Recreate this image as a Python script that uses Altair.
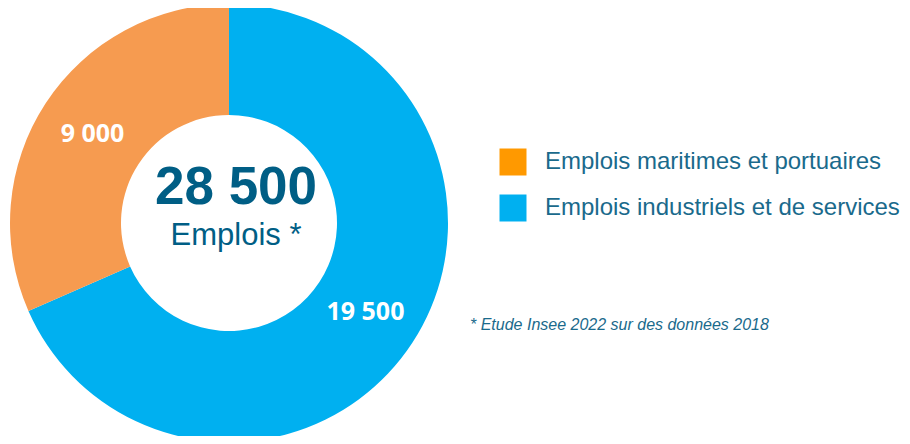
import altair as alt
import pandas as pd

# ---- data ----
categories = ["Emplois industriels et de services", "Emplois maritimes et portuaires"]
values = [19500, 9000]
value_labels = ["19 500", "9 000"]
slice_order = [0, 1]
pie_colors = ["#00B0F0", "#F69B50"]

legend_order = ["Emplois maritimes et portuaires", "Emplois industriels et de services"]
legend_colors = ["#FF9900", "#00B0F0"]

total_label = "28 500"
total_caption = "Emplois *"
footnote = "* Etude Insee 2022 sur des données 2018"

TEXT_DARK = "#005E85"
TEXT_MID = "#1A6A8C"

df = pd.DataFrame({"cat": categories, "val": values, "lab": value_labels, "ord": slice_order})
leg = pd.DataFrame({"cat": legend_order})

CX, CY = 221, 215

theta = alt.Theta("val:Q", stack=True)
order = alt.Order("ord:Q")

arcs = alt.Chart(df).mark_arc(outerRadius=219, innerRadius=108).encode(
    theta=theta, order=order,
    color=alt.Color("cat:N", scale=alt.Scale(domain=categories, range=pie_colors), legend=None),
    x=alt.value(CX), y=alt.value(CY),
)

slice_text = alt.Chart(df).mark_text(
    radius=163, fontSize=25, fontWeight="bold", font="Open Sans", color="white"
).encode(theta=theta, order=order, text="lab:N", x=alt.value(CX), y=alt.value(CY))

center = pd.DataFrame({"t": [total_label]})
center_big = alt.Chart(center).mark_text(
    fontSize=53, fontWeight="bold", font="Liberation Sans", color=TEXT_DARK,
    baseline="alphabetic", align="center"
).encode(text="t:N", x=alt.value(228), y=alt.value(196))

cap = pd.DataFrame({"t": [total_caption]})
center_cap = alt.Chart(cap).mark_text(
    fontSize=31, font="Liberation Sans", color=TEXT_DARK,
    baseline="alphabetic", align="center"
).encode(text="t:N", x=alt.value(228), y=alt.value(237))

ly = alt.Y("cat:N", scale=alt.Scale(type="point", domain=legend_order, range=[154, 200], padding=0), axis=None)

leg_sq = alt.Chart(leg).mark_square(size=729, opacity=1).encode(
    y=ly, x=alt.value(505),
    fill=alt.Fill("cat:N", scale=alt.Scale(domain=legend_order, range=legend_colors), legend=None),
)
leg_txt = alt.Chart(leg).mark_text(
    fontSize=24, font="Liberation Sans", color=TEXT_MID, align="left", baseline="middle"
).encode(y=ly, x=alt.value(537), text="cat:N")

fn = pd.DataFrame({"t": [footnote]})
foot = alt.Chart(fn).mark_text(
    fontSize=16, font="Liberation Sans", fontStyle="italic", color=TEXT_MID,
    align="left", baseline="middle"
).encode(text="t:N", x=alt.value(462), y=alt.value(317))

chart = alt.layer(arcs, slice_text, center_big, center_cap, leg_sq, leg_txt, foot).properties(
    width=894, height=428, autosize="none", padding=0, background="white"
).configure_view(stroke=None)

chart.save("out.html", embed_options={"renderer": "svg", "actions": False})
